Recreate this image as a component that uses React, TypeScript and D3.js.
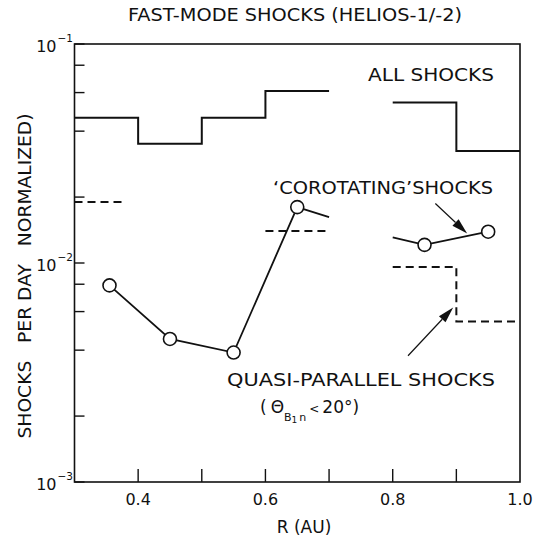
import React from "react";
import * as d3 from "d3";

// ---- data ----
const binEdges = [0.3, 0.4, 0.5, 0.6, 0.7, 0.8, 0.9, 1.0];
const allShocks: (number | null)[] = [0.046, 0.035, 0.046, 0.061, null, 0.054, 0.0325];

const qpStart = [0.3, 0.6, 0.8, 0.9];
const qpEnd = [0.38, 0.7, 0.9, 1.0];
const qpValue = [0.019, 0.014, 0.0096, 0.0054];

const corotR = [0.355, 0.45, 0.55, 0.65, 0.7, 0.75, 0.8, 0.85, 0.95];
const corotV: (number | null)[] = [0.0079, 0.0045, 0.0039, 0.018, 0.0162, null, 0.0131, 0.0121, 0.0139];
const corotMarker = [true, true, true, true, false, false, false, true, true];

const xTicks = [0.4, 0.5, 0.6, 0.7, 0.8, 0.9];
const xTickLabels = ["0.4", "0.6", "0.8", "1.0"];
const yMinor = [2, 4, 6, 8];
const yDecades = [-3, -2, -1];

// arrows: [fromR, fromV, toR, toV]
const arrowCorot = [0.867, 0.0187, 0.917, 0.01365];
const arrowQP = [0.824, 0.00377, 0.895, 0.00626];

const W = 541;
const H = 539;
const L = 74.5, R = 520, T = 44, B = 482;

const FONT = "DejaVu Sans, sans-serif";

function Arrow({ x1, y1, x2, y2 }: { x1: number; y1: number; x2: number; y2: number }) {
  const ang = Math.atan2(y2 - y1, x2 - x1);
  const len = 16, hw = 4.5;
  const bx = x2 - len * Math.cos(ang);
  const by = y2 - len * Math.sin(ang);
  const px = -Math.sin(ang) * hw, py = Math.cos(ang) * hw;
  return (
    <g>
      <line x1={x1} y1={y1} x2={bx} y2={by} stroke="#111" strokeWidth={1.2} />
      <polygon points={`${x2},${y2} ${bx + px},${by + py} ${bx - px},${by - py}`} fill="#111" />
    </g>
  );
}

export default function App() {
  const x = d3.scaleLinear().domain([0.3, 1.0]).range([L, R]);
  const y = d3.scaleLog().domain([1e-3, 1e-1]).range([B, T]);

  // all shocks step groups
  const allGroups: [number, number][][] = [];
  let cur: [number, number][] = [];
  allShocks.forEach((v, i) => {
    if (v == null) {
      if (cur.length) allGroups.push(cur);
      cur = [];
    } else {
      cur.push([binEdges[i], v]);
      cur.push([binEdges[i + 1], v]);
    }
  });
  if (cur.length) allGroups.push(cur);

  const qpGroups: [number, number][][] = [];
  let g: [number, number][] = [];
  qpStart.forEach((s, i) => {
    if (g.length && Math.abs(g[g.length - 1][0] - s) > 1e-9) {
      qpGroups.push(g);
      g = [];
    }
    g.push([s, qpValue[i]]);
    g.push([qpEnd[i], qpValue[i]]);
  });
  if (g.length) qpGroups.push(g);

  const stepLine = d3
    .line<[number, number]>()
    .x((d) => x(d[0]))
    .y((d) => y(d[1]));

  const corotLine = d3
    .line<number>()
    .defined((i) => corotV[i] != null)
    .x((i) => x(corotR[i]))
    .y((i) => y(corotV[i] as number));

  const idx = corotR.map((_, i) => i);

  return (
    <svg width={W} height={H} style={{ position: "absolute", left: 0, top: 0, background: "#fff" }} fontFamily={FONT}>
      <rect x={0} y={0} width={W} height={H} fill="#fff" />
      {/* title */}
      <text x={128} y={21} fontSize={17} textLength={334} lengthAdjust="spacingAndGlyphs" fill="#111">
        FAST-MODE SHOCKS (HELIOS-1/-2)
      </text>

      {/* frame */}
      <rect x={L} y={T} width={R - L} height={B - T} fill="none" stroke="#111" strokeWidth={1.6} />

      {/* x ticks */}
      {xTicks.map((t) => (
        <line key={t} x1={x(t)} x2={x(t)} y1={B} y2={B - 13} stroke="#111" strokeWidth={1.4} />
      ))}
      {xTickLabels.map((t) => (
        <text key={t} x={x(+t)} y={505} fontSize={16} textAnchor="middle" fill="#111">
          {t}
        </text>
      ))}
      <text x={304} y={533} fontSize={17} textAnchor="middle" fill="#111">
        R (AU)
      </text>

      {/* y ticks */}
      {yDecades.map((d) => (
        <g key={d}>
          <line x1={L} x2={L + 10} y1={y(Math.pow(10, d))} y2={y(Math.pow(10, d))} stroke="#111" strokeWidth={1.4} />
          <text x={L - 18} y={y(Math.pow(10, d)) + 8} fontSize={16} textAnchor="end" fill="#111">
            10
          </text>
          <text x={L - 17} y={y(Math.pow(10, d)) - 2} fontSize={10.5} textAnchor="start" fill="#111">
            {"\u2212" + String(-d)}
          </text>
        </g>
      ))}
      {yDecades.slice(0, 2).map((d) =>
        yMinor.map((m) => {
          const v = m * Math.pow(10, d);
          return <line key={`${d}-${m}`} x1={L} x2={L + 10} y1={y(v)} y2={y(v)} stroke="#111" strokeWidth={1.4} />;
        })
      )}
      <text
        transform={`translate(31, 276) rotate(-90)`}
        fontSize={17}
        textAnchor="middle"
        textLength={325}
        lengthAdjust="spacingAndGlyphs"
        fill="#111"
        xmlSpace="preserve"
        style={{ whiteSpace: "pre" }}
      >
        {"SHOCKS   PER DAY   NORMALIZED)"}
      </text>

      {/* all shocks */}
      {allGroups.map((grp, i) => (
        <path key={i} d={stepLine(grp) as string} fill="none" stroke="#111" strokeWidth={2} />
      ))}

      {/* quasi-parallel (dashed) */}
      {qpGroups.map((grp, i) => (
        <path key={i} d={stepLine(grp) as string} fill="none" stroke="#111" strokeWidth={2} strokeDasharray="8,5" />
      ))}

      {/* corotating */}
      <path d={corotLine(idx) as string} fill="none" stroke="#111" strokeWidth={1.8} />
      {idx
        .filter((i) => corotMarker[i])
        .map((i) => (
          <circle key={i} cx={x(corotR[i])} cy={y(corotV[i] as number)} r={6.5} fill="#fff" stroke="#111" strokeWidth={1.6} />
        ))}

      {/* annotations */}
      <text x={368} y={81} fontSize={18} textLength={126} lengthAdjust="spacingAndGlyphs" fill="#111">
        ALL SHOCKS
      </text>
      <text x={273} y={194} fontSize={18} textLength={220} lengthAdjust="spacingAndGlyphs" fill="#111">
        {"\u2018COROTATING\u2019SHOCKS"}
      </text>
      <text x={227} y={386} fontSize={18} textLength={268} lengthAdjust="spacingAndGlyphs" fill="#111">
        QUASI-PARALLEL SHOCKS
      </text>
      <text x={260} y={413} fontSize={17} fill="#111">
        (
        <tspan dx={4}>{"\u0398"}</tspan>
        <tspan dy={8} fontSize={11}>B</tspan>
        <tspan dy={2} fontSize={9}>1</tspan>
        <tspan dy={-2} dx={2} fontSize={11}>n</tspan>
        <tspan dy={-8} dx={3} fontSize={12}>{"<"}</tspan>
        <tspan dx={3}>{"20\u00b0)"}</tspan>
      </text>

      <Arrow x1={x(arrowCorot[0])} y1={y(arrowCorot[1])} x2={x(arrowCorot[2])} y2={y(arrowCorot[3])} />
      <Arrow x1={x(arrowQP[0])} y1={y(arrowQP[1])} x2={x(arrowQP[2])} y2={y(arrowQP[3])} />
    </svg>
  );
}
